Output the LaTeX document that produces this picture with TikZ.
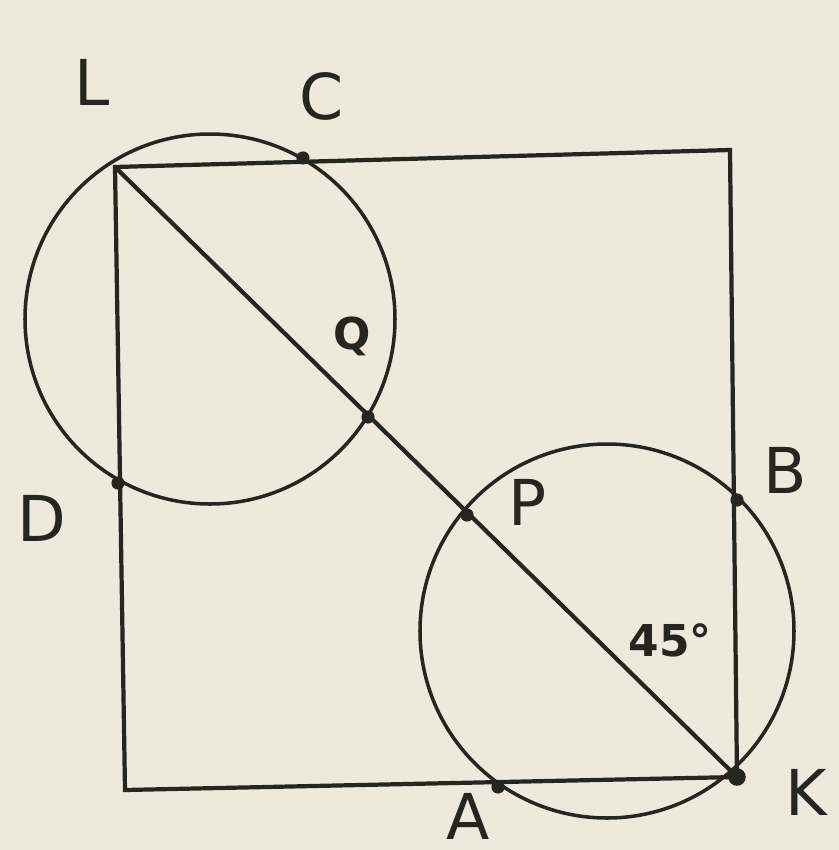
\documentclass[tikz,border=0pt]{standalone}
\usepackage{fontspec}
\setsansfont{DejaVu Sans}
\usepackage{tikz}
\usetikzlibrary{positioning}
\definecolor{PaperTone}{HTML}{EFE9DC}
\definecolor{InkDark}{HTML}{26261F}

\begin{document}
\begin{tikzpicture}[
    x=0.02cm, y=-0.02cm,
    edge/.style={draw=InkDark, line width=2.4pt},
    ring/.style={draw=InkDark, line width=2pt},
    dot/.style={circle, fill=InkDark, inner sep=0pt, minimum size=7.5pt},
    tag/.style={text=InkDark, font=\sffamily\fontsize{36}{38}\selectfont, inner sep=0pt},
    smalltag/.style={text=InkDark, font=\sffamily\bfseries\fontsize{25}{27}\selectfont, inner sep=0pt}
  ]
    \fill[PaperTone] (0,0) rectangle (839,850);
    \useasboundingbox (0,0) rectangle (839,850);
    % corners of the square
    \coordinate (L) at (115,167);
    \coordinate (R) at (730,150);
    \coordinate (K) at (737,777);
    \coordinate (S) at (125,790);
    % circle centres
    \coordinate (O1) at (210,319);
    \coordinate (O2) at (607,631);
    % points on the figure
    \node[dot] (C) at (303,158) {};
    \node[dot] (D) at (118,483) {};
    \node[dot] (Q) at (368,417) {};
    \node[dot] (P) at (467,515) {};
    \node[dot] (B) at (737,500) {};
    \node[dot] (A) at (498,787) {};
    \node[dot, minimum size=10pt] (Kdot) at (K) {};
    \draw[edge] (L) -- (R) -- (K) -- (S) -- cycle;
    \draw[edge] (L) -- (K);
    \draw[ring] (O1) circle (185);
    \draw[ring] (O2) circle (187);
    % labels
    \node[tag] (labL) at (92,82) {L};
    \node[tag] (labC) at (322,96) {C};
    \node[tag] (labD) at (42,518) {D};
    \node[tag] (labB) at (785,470) {B};
    \node[tag] (labK) at (806,792) {K};
    \node[tag] (labA) at (468,816) {A};
    \node[tag] (labP) at (528,502) {P};
    \node[smalltag] (labQ) at (352,336) {Q};
    \node[smalltag] (labAngle) at (670,640) {45°};
  \end{tikzpicture}
\end{document}
